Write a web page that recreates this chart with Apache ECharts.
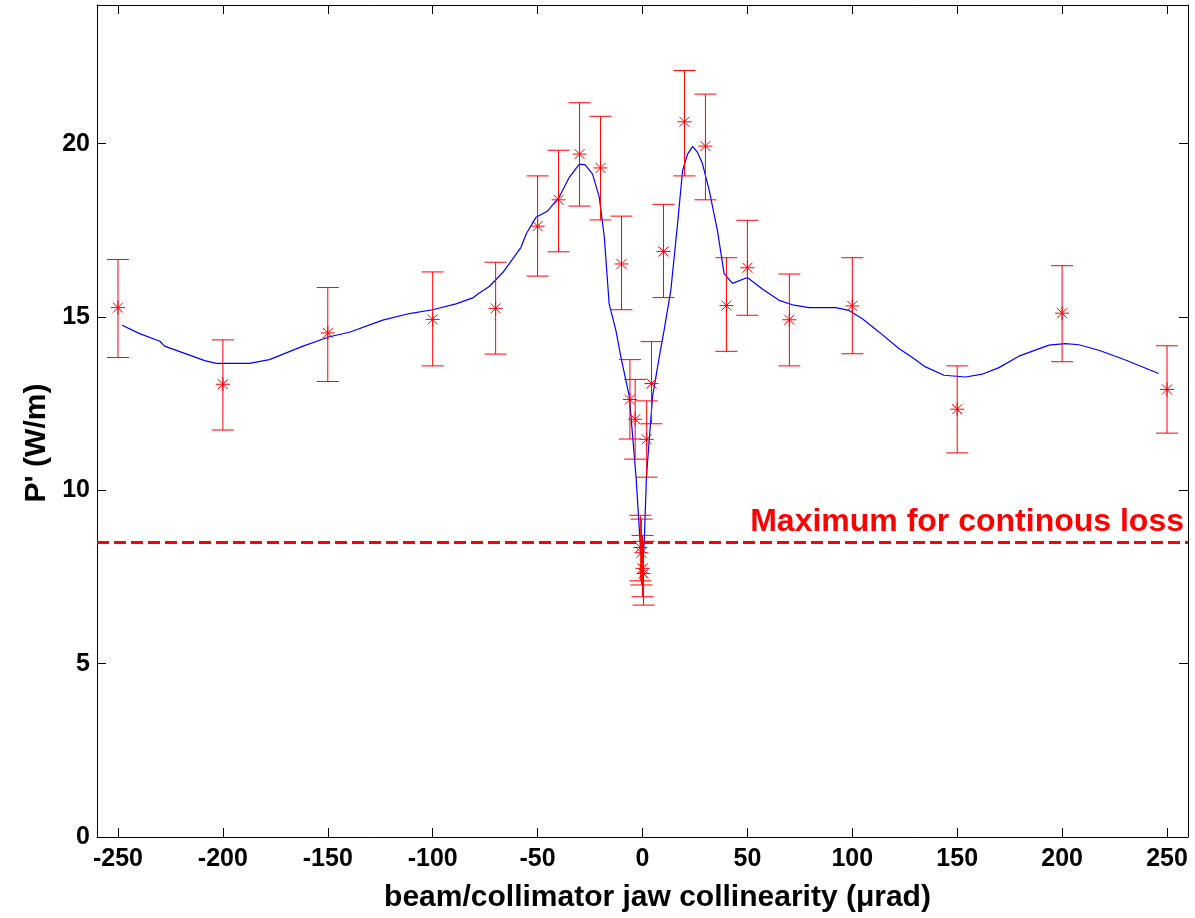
<!DOCTYPE html>
<html>
<head>
<meta charset="utf-8">
<script src="https://cdn.jsdelivr.net/npm/echarts@6/dist/echarts.min.js"></script>
<style>
html,body{margin:0;padding:0;background:#fff;}
#chart{width:1195px;height:918px;}
</style>
</head>
<body>
<div id="chart"></div>
<script>
// ---- data ----
const errX  = [-250,-200,-150,-100,-70,-50,-40,-30,-20,-10,-6,-3.5,-1,-0.5,0,0.5,2,4.3,10,20,30,40,50,70,100,150,200,250];
const errY  = [15.27,13.06,14.54,14.93,15.25,17.62,18.38,19.70,19.30,16.53,12.62,12.05,8.35,8.20,7.75,7.60,11.47,13.08,16.89,20.63,19.93,15.33,16.42,14.92,15.32,12.34,15.11,12.91];
const errHi = [16.66,14.34,15.85,16.30,16.58,19.07,19.81,21.18,20.79,17.91,13.77,13.20,9.28,9.17,8.70,8.53,12.58,14.29,18.25,22.11,21.43,16.71,17.79,16.24,16.71,13.59,16.48,14.17];
const errLo = [13.83,11.74,13.14,13.59,13.93,16.18,16.88,18.20,17.80,15.21,11.48,10.90,7.39,7.27,6.93,6.69,10.38,11.92,15.56,19.07,18.38,14.01,15.05,13.59,13.94,11.08,13.71,11.65];

const curveX = [-248,-239.7,-230,-227.8,-215.9,-208.7,-203.1,-187.3,-177.8,-161.8,-149.2,-139.7,-123.8,-111.1,-100,-88.9,-80.9,-77.8,-73,-66.5,-57.9,-55.4,-50.7,-45.2,-39.7,-34.9,-30.1,-27.3,-23.8,-20.6,-18.2,-15.9,-12.7,-10.3,-6.3,-3.1,-1.1,0,0.8,1.9,4.8,8,10.3,13.5,16.7,19.1,21.5,23.9,26.2,28.6,31.8,35.7,38.9,42.9,50,57.1,65.1,72.2,79.4,92.1,98.4,104.8,112.7,122.2,128.6,134.9,143.7,154,161.9,169.9,179.4,193.7,201.6,208,217.5,230.2,246];
const curveY = [14.76,14.52,14.30,14.16,13.90,13.74,13.66,13.66,13.77,14.16,14.43,14.56,14.91,15.10,15.21,15.38,15.55,15.69,15.88,16.29,17.01,17.40,17.88,18.06,18.46,19.03,19.41,19.39,19.12,18.46,17.30,15.38,14.62,13.85,12.71,10.41,8.47,7.95,8.47,10.41,12.71,13.85,14.62,15.77,17.68,19.22,19.70,19.92,19.75,19.42,18.65,17.50,16.25,15.97,16.14,15.81,15.48,15.34,15.27,15.27,15.19,14.95,14.57,14.09,13.83,13.56,13.32,13.27,13.35,13.54,13.87,14.19,14.23,14.20,14.04,13.76,13.37];

const xTicks = [-250,-200,-150,-100,-50,0,50,100,150,200,250];
const limitValue = 8.5;
const limitLabel = 'Maximum for continous loss';
const xTitle = 'beam/collimator jaw collinearity (μrad)';
const yTitle = "P' (W/m)";

// ---- chart ----
const FONT = '"Liberation Sans", Arial, Helvetica, sans-serif';
const chart = echarts.init(document.getElementById('chart'), null, {renderer: 'canvas'});

const errData = errX.map((x, i) => [x, errY[i], errLo[i], errHi[i]]);
const curveData = curveX.map((x, i) => [x, curveY[i]]);

const RED = '#ff0000';
function renderErr(params, api) {
  const x = api.value(0);
  const pc = api.coord([x, api.value(1)]);
  const pl = api.coord([x, api.value(2)]);
  const ph = api.coord([x, api.value(3)]);
  const cw = 11, r = 7, d = 5;
  const st = {stroke: RED, lineWidth: 1};
  const ln = (x1, y1, x2, y2) => ({type: 'line', shape: {x1, y1, x2, y2}, style: st});
  return {
    type: 'group',
    children: [
      ln(pc[0], ph[1], pc[0], pl[1]),
      ln(pc[0] - cw, ph[1], pc[0] + cw, ph[1]),
      ln(pc[0] - cw, pl[1], pc[0] + cw, pl[1]),
      ln(pc[0] - r, pc[1], pc[0] + r, pc[1]),
      ln(pc[0], pc[1] - r, pc[0], pc[1] + r),
      ln(pc[0] - d, pc[1] - d, pc[0] + d, pc[1] + d),
      ln(pc[0] - d, pc[1] + d, pc[0] + d, pc[1] - d)
    ]
  };
}

const tickStyle = {inside: true, length: 9, lineStyle: {color: '#000', width: 1}};
const option = {
  backgroundColor: '#fff',
  animation: false,
  grid: {left: 97, right: 7, top: 5, bottom: 80, containLabel: false},
  xAxis: [{
    type: 'value', min: -260, max: 260, position: 'bottom',
    axisLine: {show: true, onZero: false, lineStyle: {color: '#000', width: 1}},
    axisTick: Object.assign({customValues: xTicks}, tickStyle),
    axisLabel: {customValues: xTicks, color: '#000', fontFamily: FONT, fontWeight: 'bold', fontSize: 25, margin: 10},
    splitLine: {show: false},
    name: xTitle, nameLocation: 'middle', nameGap: 46,
    nameTextStyle: {color: '#000', fontFamily: FONT, fontWeight: 'bold', fontSize: 30, padding: [0, 0, 0, 30]}
  }, {
    type: 'value', min: -260, max: 260, position: 'top',
    axisLine: {show: true, onZero: false, lineStyle: {color: '#000', width: 1}},
    axisTick: Object.assign({customValues: xTicks}, tickStyle),
    axisLabel: {show: false},
    splitLine: {show: false}
  }],
  yAxis: [{
    type: 'value', min: 0, max: 24, interval: 5, position: 'left',
    axisLine: {show: true, onZero: false, lineStyle: {color: '#000', width: 1}},
    axisTick: tickStyle,
    axisLabel: {showMaxLabel: false, color: '#000', fontFamily: FONT, fontWeight: 'bold', fontSize: 25, margin: 7},
    splitLine: {show: false},
    name: yTitle, nameLocation: 'middle', nameGap: 44, nameRotate: 90,
    nameTextStyle: {color: '#000', fontFamily: FONT, fontWeight: 'bold', fontSize: 30, padding: [0, 44, 0, 0]}
  }, {
    type: 'value', min: 0, max: 24, interval: 5, position: 'right',
    axisLine: {show: true, onZero: false, lineStyle: {color: '#000', width: 1}},
    axisTick: tickStyle,
    axisLabel: {show: false},
    splitLine: {show: false}
  }],
  series: [{
    type: 'line', data: curveData, xAxisIndex: 0, yAxisIndex: 0,
    showSymbol: false, symbol: 'none', smooth: false,
    lineStyle: {color: '#0000ff', width: 1.2},
    z: 3,
    markLine: {
      silent: true, symbol: ['none', 'none'],
      lineStyle: {color: RED, width: 3, type: [12, 5]},
      label: {show: true, position: 'insideEndTop', formatter: limitLabel, color: RED,
              fontFamily: FONT, fontWeight: 'bold', fontSize: 32, distance: 4},
      data: [{yAxis: limitValue}]
    }
  }, {
    type: 'custom', data: errData, xAxisIndex: 0, yAxisIndex: 0,
    renderItem: renderErr, z: 4, clip: true
  }]
};
chart.setOption(option);
</script>
</body>
</html>
